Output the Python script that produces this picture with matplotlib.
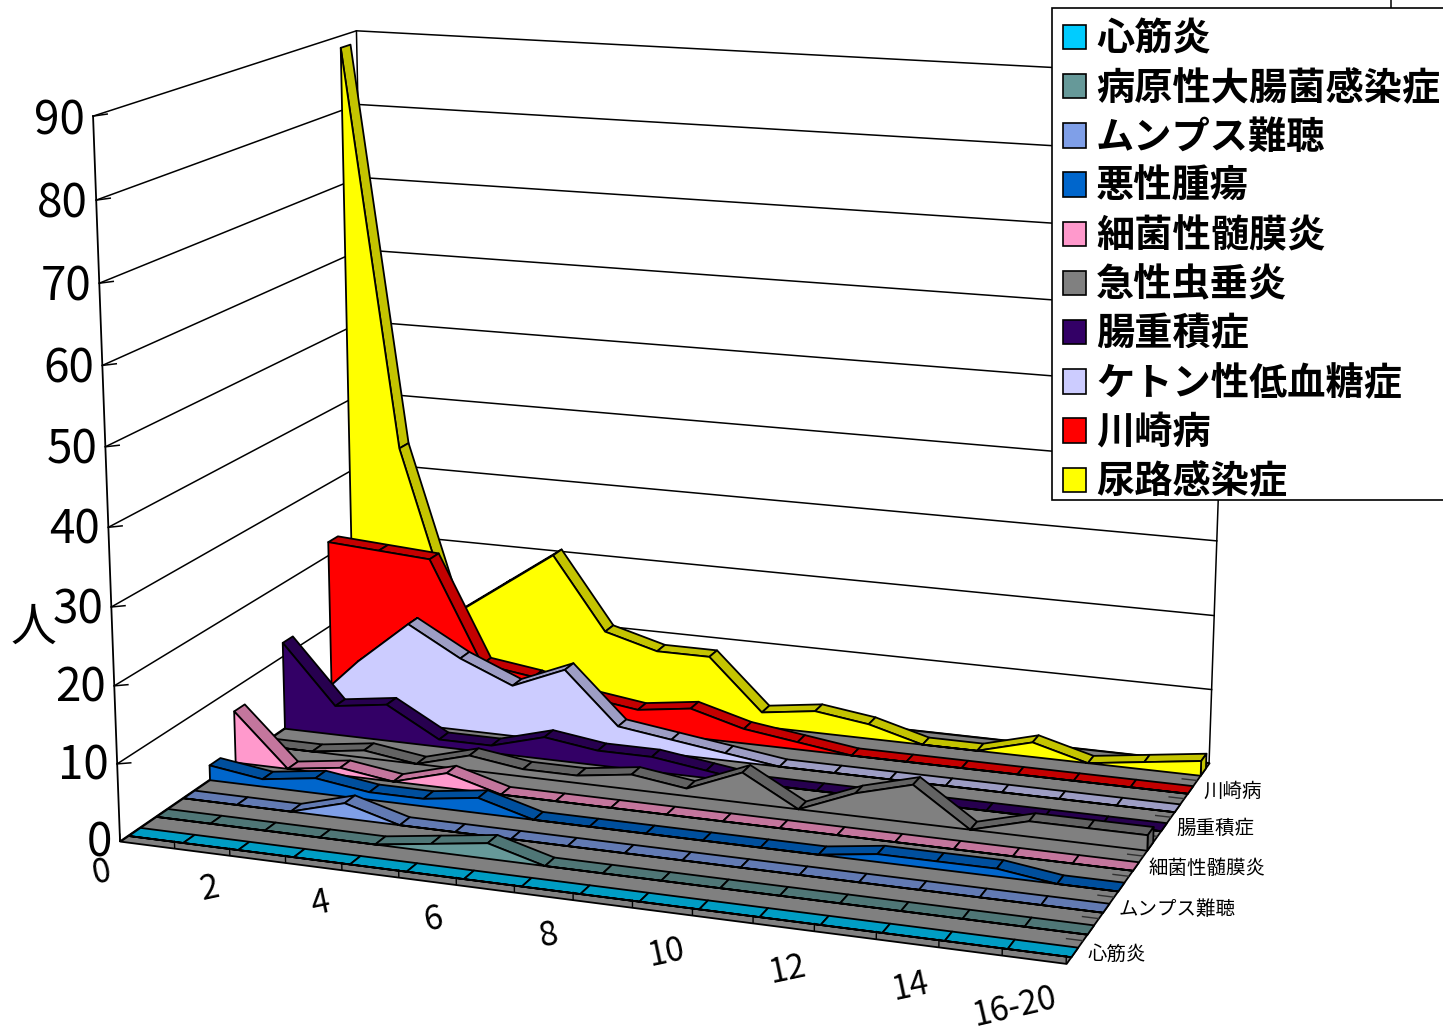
import numpy as np
import matplotlib
matplotlib.use('Agg')
import matplotlib.pyplot as plt
from matplotlib.colors import to_rgb
from matplotlib.lines import Line2D
from matplotlib.patches import Patch, Rectangle
from mpl_toolkits.mplot3d import proj3d
from mpl_toolkits.mplot3d.art3d import Poly3DCollection

plt.rcParams['font.family'] = ['Noto Sans CJK JP', 'DejaVu Sans']

# Series from front to back
names = ['心筋炎', '病原性大腸菌感染症', 'ムンプス難聴', '悪性腫瘍', '細菌性髄膜炎',
         '急性虫垂炎', '腸重積症', 'ケトン性低血糖症', '川崎病', '尿路感染症']
colors = ['#00CCFF', '#669999', '#7F9FE8', '#0066CC', '#FF99CC',
          '#808080', '#330066', '#CCCCFF', '#FF0000', '#FFFF00']

shinkin = [0] * 17
byogen = [0, 0, 0, 0, 0, 1, 2, 0, 0, 0, 0, 0, 0, 0, 0, 0, 0]
mumps = [0, 0, 0, 2, 0, 0, 0, 0, 0, 0, 0, 0, 0, 0, 0, 0, 0]
akusei = [2, 1, 2, 1, 1, 2, 0, 0, 0, 0, 0, 0, 1, 1, 1, 0, 0]
saikin = [7, 0, 1, 0, 2, 0, 0, 0, 0, 0, 0, 0, 0, 0, 0, 0, 0]
kyusei = [0, 0, 1, 0, 2, 1, 1, 2, 1, 4, 0, 3, 5, 0, 2, 2, 2]
chojuseki = [12, 4, 5, 1, 1, 3, 2, 2, 1, 0, 0, 0, 0, 0, 0, 0, 0]
keton = [1, 8, 14, 10, 7, 10, 3, 2, 1, 0, 0, 0, 0, 0, 0, 0, 0]
kawasaki = [22, 21.5, 21, 7, 6, 4, 3, 4, 2, 1, 0, 0, 0, 0, 0, 0, 0]
nyoro = [88.5, 34, 11, 16, 21, 11, 9, 9, 2, 3, 2, 0, 0, 2, 0, 1, 2]
series = [shinkin, byogen, mumps, akusei, saikin, kyusei, chojuseki, keton, kawasaki, nyoro]

x_ticks = [0, 2, 4, 6, 8, 10, 12, 14, 16]
x_labels = ['0', '2', '4', '6', '8', '10', '12', '14', '16-20']
z_ticks = [0, 10, 20, 30, 40, 50, 60, 70, 80, 90]
depth_ticks = [0, 2, 4, 6, 8]
depth_labels = ['心筋炎', 'ムンプス難聴', '細菌性髄膜炎', '腸重積症', '川崎病']

W, H = 1443, 1032
fig = plt.figure(figsize=(W / 100, H / 100), dpi=100)

# camera fitted to the box corners of the picture
s, cx, cy = 7089.52, 680.326, 456.427
side = s * 0.185
ax = fig.add_axes([(cx - s * 0.095) / W, (H - cy - s * 0.095) / H, side / W, side / H],
                  projection='3d')
ax.set_xlim(0, 16)
ax.set_ylim(0, 10)
ax.set_zlim(0, 90)
ax.view_init(elev=14.2991, azim=-70.2154, roll=0.0023)
ax.set_proj_type('persp', focal_length=0.5557)
ax.set_box_aspect((1.3281, 0.8303, 1.0))
ax.set_axis_off()
ax.computed_zorder = False
ax.patch.set_alpha(0)


def label(x, y, z, txt, dx=0, dy=0, **kw):
    # text at a 3d point, moved by dx, dy pixels on the picture
    M = ax.get_proj()
    px, py, _ = proj3d.proj_transform(x, y, z, M)
    fx = cx + s * px + dx
    fy = cy - s * py + dy
    fig.text(fx / W, 1 - fy / H, txt, **kw)


# walls
for z in z_ticks:
    ax.plot([0, 0, 16], [0, 10, 10], [z, z, z], color='k', lw=1.1, zorder=1)
    ax.plot([0, 0.25], [0, 0], [z, z + 0.35], color='k', lw=1.1, zorder=1)
ax.plot([0, 0], [0, 0], [0, 90], color='k', lw=1.3, zorder=1)
ax.plot([0, 0], [10, 10], [0, 90], color='k', lw=1.1, zorder=1)
ax.plot([16, 16], [10, 10], [0, 90], color='k', lw=1.1, zorder=1)

# floor
floor = [[(0, 0, 0), (16, 0, 0), (16, 10, 0), (0, 10, 0)]]
ax.add_collection3d(Poly3DCollection(floor, facecolor='#808080', edgecolor='k', linewidth=1.3,
                                     zorder=2))
for k in range(1, 10):
    ax.plot([15.75, 16], [k, k], [0, 0], color='#303030', lw=1.0, zorder=3)

gap = 0.29
zo = 10
xs = np.arange(17)
# back to front
for i in range(len(series) - 1, -1, -1):
    v = np.array(series[i], float)
    yf, yb = i + gap, i + 1 - gap
    dark = tuple(np.array(to_rgb(colors[i])) * 0.77)
    # top strips, left to right
    for j in range(16):
        quad = [[(xs[j], yf, v[j]), (xs[j + 1], yf, v[j + 1]),
                 (xs[j + 1], yb, v[j + 1]), (xs[j], yb, v[j])]]
        ax.add_collection3d(Poly3DCollection(quad, facecolor=dark, edgecolor='k',
                                             linewidth=1.3, zorder=zo))
        zo += 1
    # end of the slab at the right
    if v[-1] > 0:
        end = [[(16, yf, 0), (16, yb, 0), (16, yb, v[-1]), (16, yf, v[-1])]]
        ax.add_collection3d(Poly3DCollection(end, facecolor=dark, edgecolor='k',
                                             linewidth=1.3, zorder=zo))
        zo += 1
    # front face
    face = [(xs[j], yf, v[j]) for j in range(17)] + [(16, yf, 0), (0, yf, 0)]
    ax.add_collection3d(Poly3DCollection([face], facecolor=colors[i], edgecolor='k',
                                         linewidth=1.3, zorder=zo))
    zo += 1

# ticks on the front band, upright on the picture
for t in range(17):
    ax.plot([t, t], [0, 0], [0, 0.9], color='k', lw=1.0, zorder=zo)

for z in z_ticks:
    label(0, 0, z, str(z), dx=-8, dy=2 + z * 0.03, ha='right', va='center', fontsize=33)
for t, lab in zip(x_ticks, x_labels):
    if lab == '16-20':
        label(t, 0, 0, lab, dx=-52, dy=44, ha='center', va='center', fontsize=24, rotation=13)
    else:
        label(t, 0, 0, lab, dx=-19 - 0.7 * t, dy=32 + 0.55 * t, ha='center', va='center',
              fontsize=24, rotation=12)
for d, lab in zip(depth_ticks, depth_labels):
    label(16, d + 0.5, 0, lab, dx=13, dy=2, ha='left', va='center', fontsize=14)

fig.text(33 / W, 1 - 627 / H, '人', ha='center', va='center', fontsize=33)

# legend box
fig.add_artist(Rectangle((1052 / W, 1 - 500 / H), 400 / W, 492 / H, transform=fig.transFigure,
                         facecolor='w', edgecolor='k', linewidth=1.2, zorder=40))
handles = [Patch(facecolor=c, edgecolor='k', linewidth=1.2) for c in colors]
leg = fig.legend(handles, names, loc='upper left', bbox_to_anchor=(1052 / W, 1 - 8 / H),
                 borderaxespad=0, borderpad=0.3, frameon=False,
                 handlelength=0.6, handleheight=0.6, handletextpad=0.25, labelspacing=0.267,
                 prop={'size': 27.5, 'weight': 'bold'})
leg.set_zorder(50)
fig.add_artist(Line2D([1391 / W, 1391 / W], [1 - 8 / H, 1], color='k', lw=1.1))

fig.savefig('out.png', dpi=100)
